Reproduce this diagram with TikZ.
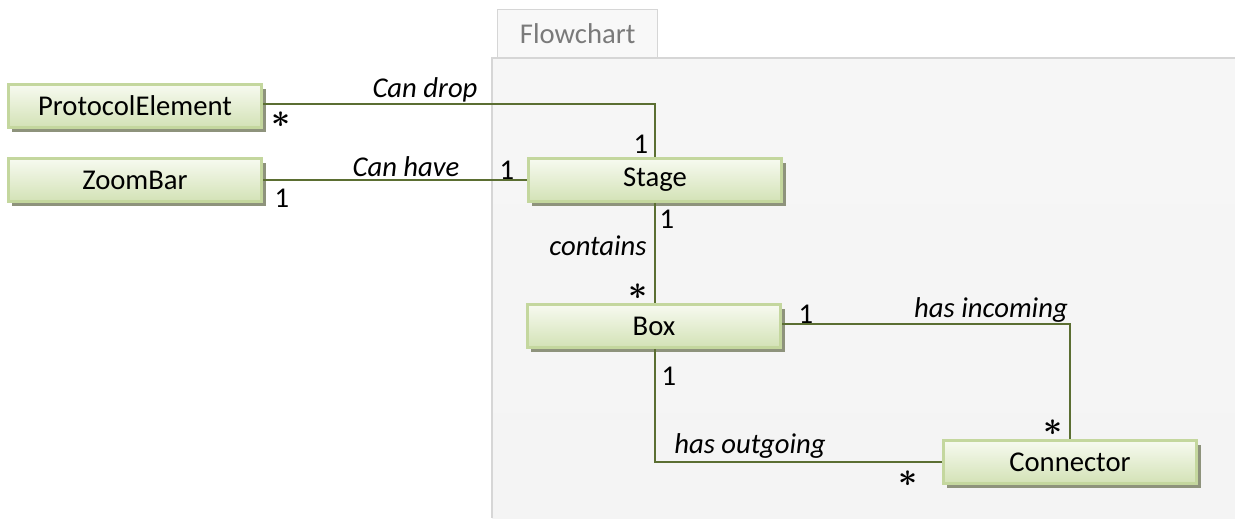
\documentclass[tikz,border=0pt]{standalone}
\usepackage{fontspec}
\setmainfont{Carlito}
\usetikzlibrary{positioning,shadings,shadows}
\definecolor{linkgreen}{HTML}{5B6E32}
\definecolor{boxedge}{HTML}{C4D79E}
\definecolor{boxtop}{HTML}{F7FAF0}
\definecolor{boxbot}{HTML}{D3E2B6}
\definecolor{shade}{HTML}{8E937C}
\definecolor{panelfill}{HTML}{F4F4F4}
\definecolor{paneledge}{HTML}{D6D6D6}
\definecolor{tabtext}{HTML}{7A7A7A}
\newcommand{\many}{{\fontsize{26}{26}\selectfont\boldmath$\ast$}}
\tikzset{
  entity/.style={draw=boxedge, line width=2.2pt, top color=boxtop, bottom color=boxbot,
    minimum width=190pt, minimum height=32pt, inner sep=0pt,
    font=\fontsize{21.5}{24}\selectfont,
    general shadow={fill=shade, shadow xshift=3pt, shadow yshift=-3.5pt}},
  link/.style={draw=linkgreen, line width=1.5pt},
  role/.style={font=\fontsize{21.5}{24}\selectfont\itshape, inner sep=1pt},
  mult/.style={font=\fontsize{21.5}{24}\selectfont, inner sep=1pt},
}
\begin{document}
\begin{tikzpicture}[x=0.75pt, y=-0.75pt]
  \useasboundingbox (0,0) rectangle (1235,518);
  % package panel with its name tab
  \fill[top color=panelfill!80!white, bottom color=panelfill] (492,58) rectangle (1235,518);
  \draw[paneledge, line width=2pt] (492,518) -- (492,58) -- (1235,58);
  \node[draw=paneledge, fill=panelfill!60!white, line width=1pt, minimum width=120pt, minimum height=36pt,
        anchor=south west, inner sep=0pt, text=tabtext, font=\fontsize{21.5}{24}\selectfont]
        (tab) at (497,58) {Flowchart};

  % classes
  \node[entity] (pe)    at (135,106) {ProtocolElement};
  \node[entity] (zoom)  at (135,180) {ZoomBar};
  \node[entity] (stage) at (655,180) {Stage};
  \node[entity] (box)   at (654,326) {Box};
  \node[entity] (conn)  at (1070,462) {Connector};

  % associations
  \coordinate (peturn)  at (655,104);
  \coordinate (inturn)  at (1070,324);
  \coordinate (outturn) at (655,462);
  \draw[link] (pe.east |- peturn) -- (peturn) -- (stage.north);
  \draw[link] (zoom.east) -- (stage.west);
  \draw[link] (stage.south) -- (stage.south |- box.north);
  \draw[link] (box.east |- inturn) -- (inturn) -- (conn.north);
  \draw[link] (box.south -| outturn) -- (outturn) -- (conn.west);

  % role names
  \node[role] (lbl1) at (425,90)  {Can drop};
  \node[role] (lbl2) at (406,167) {Can have};
  \node[role] (lbl3) at (598,246) {contains};
  \node[role] (lbl4) at (991,310) {has incoming};
  \node[role] (lbl5) at (750,446) {has outgoing};

  % multiplicities
  \node[mult] (m1) at (281,120) {\many};
  \node[mult] (m2) at (641,144) {1};
  \node[mult] (m3) at (282,198) {1};
  \node[mult] (m4) at (507,170) {1};
  \node[mult] (m5) at (667,219) {1};
  \node[mult] (m6) at (638,292) {\many};
  \node[mult] (m7) at (806,314) {1};
  \node[mult] (m8) at (1053,428) {\many};
  \node[mult] (m9) at (669,376) {1};
  \node[mult] (m10) at (908,479) {\many};
\end{tikzpicture}
\end{document}
